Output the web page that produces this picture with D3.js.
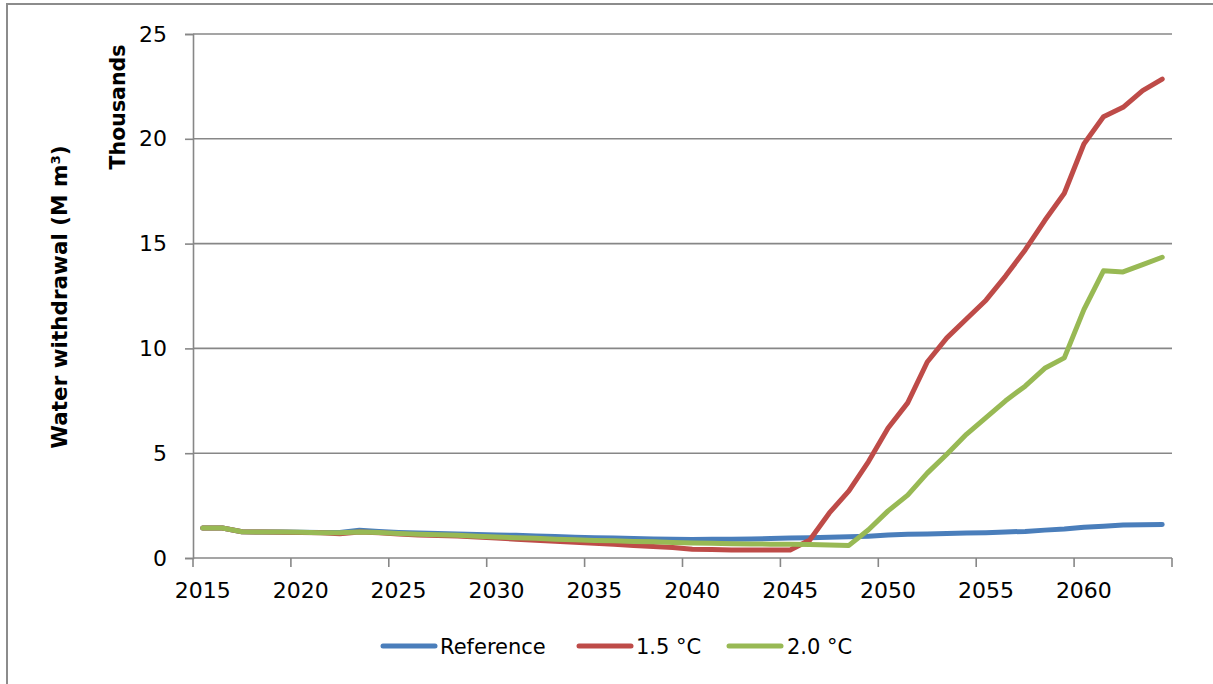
<!DOCTYPE html>
<html>
<head>
<meta charset="utf-8">
<script src="https://cdn.jsdelivr.net/npm/d3@7"></script>
<style>
  html, body { margin: 0; padding: 0; background: #fff; }
  svg { display: block; }
  text { font-family: "DejaVu Sans", Verdana, sans-serif; fill: #000; }
</style>
</head>
<body>
<svg id="chart" width="1213" height="684"></svg>
<script>
// Annual water withdrawal, thousands of M m3
const years = d3.range(2015, 2065);

const reference = [
  1.43, 1.43, 1.25, 1.24, 1.24, 1.23, 1.22, 1.22, 1.32, 1.27,
  1.22, 1.19, 1.17, 1.15, 1.12, 1.10, 1.08, 1.05, 1.02, 0.99,
  0.97, 0.95, 0.93, 0.91, 0.90, 0.88, 0.89, 0.90, 0.91, 0.93,
  0.95, 0.97, 0.99, 1.01, 1.04, 1.10, 1.13, 1.15, 1.17, 1.19,
  1.21, 1.24, 1.27, 1.33, 1.38, 1.47, 1.52, 1.57, 1.59, 1.60
];

const deg15 = [
  1.43, 1.43, 1.25, 1.24, 1.23, 1.22, 1.20, 1.16, 1.24, 1.20,
  1.15, 1.10, 1.07, 1.05, 1.00, 0.95, 0.90, 0.85, 0.80, 0.75,
  0.70, 0.66, 0.60, 0.55, 0.50, 0.42, 0.40, 0.38, 0.38, 0.38,
  0.38, 0.86, 2.15, 3.20, 4.60, 6.20, 7.40, 9.35, 10.50, 11.40,
  12.30, 13.45, 14.70, 16.10, 17.40, 19.75, 21.05, 21.50, 22.30, 22.85
];

const deg20 = [
  1.43, 1.43, 1.25, 1.24, 1.24, 1.23, 1.21, 1.20, 1.24, 1.22,
  1.17, 1.13, 1.11, 1.08, 1.04, 1.00, 0.97, 0.94, 0.90, 0.87,
  0.84, 0.82, 0.79, 0.77, 0.74, 0.72, 0.70, 0.68, 0.67, 0.66,
  0.66, 0.65, 0.62, 0.60, 1.35, 2.25, 3.00, 4.05, 4.95, 5.90,
  6.70, 7.50, 8.20, 9.05, 9.55, 11.85, 13.70, 13.65, 14.00, 14.35
];

const seriesNames = ["Reference", "1.5 °C", "2.0 °C"];
const seriesColors = ["#4A7EBB", "#BE4B48", "#98B954"];
const yTicks = [0, 5, 10, 15, 20, 25];
const xLabelYears = [2015, 2020, 2025, 2030, 2035, 2040, 2045, 2050, 2055, 2060];

const svg = d3.select("#chart");
const gridColor = "#878787";

// outer frame
svg.append("rect")
  .attr("x", 7).attr("y", 4)
  .attr("width", 1220).attr("height", 700)
  .attr("fill", "none").attr("stroke", "#8c8c8c").attr("stroke-width", 2);

const x = d3.scaleBand().domain(years).range([193, 1172]).paddingInner(0).paddingOuter(0);
const y = d3.scaleLinear().domain([0, 25]).range([558, 34]);
const cx = d => x(d) + x.bandwidth() / 2;

// horizontal gridlines
svg.append("g").selectAll("line")
  .data(yTicks.filter(v => v > 0))
  .join("line")
  .attr("x1", 193).attr("x2", 1172)
  .attr("y1", d => y(d)).attr("y2", d => y(d))
  .attr("stroke", gridColor).attr("stroke-width", 1.6);

// y axis
const yAxis = svg.append("g")
  .attr("transform", "translate(193,0)")
  .call(d3.axisLeft(y).tickValues(yTicks).tickSize(8).tickPadding(18).tickFormat(d3.format("d")));
yAxis.select(".domain").attr("stroke", gridColor).attr("stroke-width", 1.6);
yAxis.selectAll(".tick line").attr("stroke", gridColor).attr("stroke-width", 1.6);
yAxis.selectAll("text").style("font-size", "22px").style("font-family", "DejaVu Sans").attr("fill", "#000");

// x axis: ticks at category boundaries every 5 years, labels centred on categories
const xg = svg.append("g").attr("transform", "translate(0,558)");
const tickPositions = xLabelYears.map(d => x(d)).concat([x(2064) + x.bandwidth()]);
xg.append("line")
  .attr("x1", 193).attr("x2", 1172).attr("y1", 0).attr("y2", 0)
  .attr("stroke", gridColor).attr("stroke-width", 1.6);
xg.selectAll("line.tk")
  .data(tickPositions)
  .join("line").attr("class", "tk")
  .attr("x1", d => d).attr("x2", d => d)
  .attr("y1", 0).attr("y2", 9)
  .attr("stroke", gridColor).attr("stroke-width", 1.6);
xg.selectAll("text")
  .data(xLabelYears)
  .join("text")
  .attr("x", d => cx(d))
  .attr("y", 40)
  .attr("text-anchor", "middle")
  .style("font-size", "22px")
  .text(d => d);

// axis titles
svg.append("text")
  .attr("transform", "translate(67,297) rotate(-90)")
  .attr("text-anchor", "middle")
  .style("font-size", "21.5px").style("font-weight", "bold")
  .text("Water withdrawal (M m³)");
svg.append("text")
  .attr("transform", "translate(125,107) rotate(-90)")
  .attr("text-anchor", "middle")
  .style("font-size", "20.5px").style("font-weight", "bold")
  .text("Thousands");

// series lines
const allSeries = [reference, deg15, deg20];
const line = d3.line()
  .x((d, i) => cx(years[i]))
  .y(d => y(d));

svg.append("g").selectAll("path")
  .data(allSeries)
  .join("path")
  .attr("d", d => line(d))
  .attr("fill", "none")
  .attr("stroke", (d, i) => seriesColors[i])
  .attr("stroke-width", 5)
  .attr("stroke-linejoin", "round")
  .attr("stroke-linecap", "round");

// legend
const legendItems = [
  { x1: 383, x2: 435, tx: 440 },
  { x1: 579, x2: 631, tx: 636 },
  { x1: 729, x2: 781, tx: 787 }
];
const lg = svg.append("g");
legendItems.forEach((it, i) => {
  lg.append("line")
    .attr("x1", it.x1).attr("x2", it.x2)
    .attr("y1", 646).attr("y2", 646)
    .attr("stroke", seriesColors[i]).attr("stroke-width", 5)
    .attr("stroke-linecap", "round");
  lg.append("text")
    .attr("x", it.tx).attr("y", 654)
    .style("font-size", "21px")
    .text(seriesNames[i]);
});
</script>
</body>
</html>
